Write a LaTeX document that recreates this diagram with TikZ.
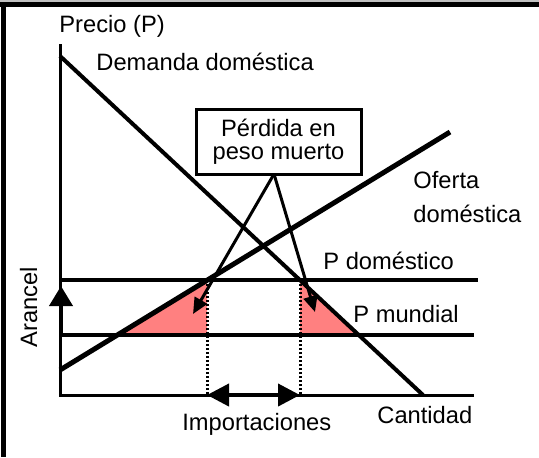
\documentclass[tikz,border=0pt]{standalone}
\usepackage{fontspec}
\setmainfont{Liberation Sans}
\usetikzlibrary{arrows.meta}
\definecolor{dwpink}{HTML}{FF8080}
\definecolor{framegray}{HTML}{C0C0C0}

\begin{document}
\begin{tikzpicture}[x=0.5pt,y=-0.5pt,
    lbl/.style={font=\fontsize{11.85}{11.5}\selectfont, inner sep=0pt, anchor=base west},
    axis/.style={line width=1.5pt},
    price/.style={line width=2.2pt},
    curve/.style={line width=2pt},
    guide/.style={line width=1.5pt, dash pattern=on 1pt off 1pt},
    pointer/.style={line width=1.5pt, -{Triangle[length=8pt,width=7pt]}},
    bigarrow/.style={line width=2pt},
    dwl/.style={fill=dwpink}]
\useasboundingbox (0,0) rectangle (539,457);
% frame
\fill [framegray] (0,0) rectangle (539,2);
\fill (0,2) rectangle (539,7);
\fill (1,2) rectangle (6,457);
% points
\coordinate (o) at (60,395);
\coordinate (ytop) at (60,44);
\coordinate (xend) at (474,395);
\coordinate (d1) at (60,56);
\coordinate (d2) at (423,395);
\coordinate (s1) at (60,370);
\coordinate (s2) at (450,132);
\coordinate (sw) at (117,335);
\coordinate (sd) at (207,280);
\coordinate (sm) at (207,335);
\coordinate (dd) at (300,280);
\coordinate (dm) at (300,335);
\coordinate (dw2) at (357,335);
\coordinate (qs) at (207,395);
\coordinate (qd) at (300,395);
% deadweight loss
\fill [dwl] (sw) -- (sd) -- (sm) -- cycle;
\fill [dwl] (dd) -- (dm) -- (dw2) -- cycle;
\draw [guide] (sd) -- (qs);
\draw [guide] (dd) -- (qd);
% axes
\draw [axis] (ytop) -- (o) -- (xend);
\draw [price] (60,280) -- (478,280);
\draw [price] (60,335) -- (474,335);
\draw [curve] (d1) -- (d2);
\draw [curve, line width=2.5pt] (s1) -- (s2);
% arrows
\draw [bigarrow, -{Triangle[length=10pt,width=11.5pt]}] (61,334) -- (61,286);
\draw [bigarrow, {Triangle[length=11pt,width=11pt]}-{Triangle[length=11pt,width=11pt]}] (qs) -- (qd);
% box
\node (dw) [draw, line width=1.5pt, align=center, minimum width=82.5pt, minimum height=32.5pt,
  inner sep=0pt, font=\fontsize{11.85}{11.5}\selectfont] at (278.5,141.5) {Pérdida en\\peso muerto};
\coordinate (dwfoot) at (274,174);
\coordinate (tipl) at (193,314);
\coordinate (tipr) at (315,312);
\draw [pointer] (dwfoot) -- (tipl);
\draw [pointer] (dwfoot) -- (tipr);
% labels
\node (precio) [lbl] at (59,32) {Precio (P)};
\node (dem) [lbl] at (96,70) {Demanda doméstica};
\node (of1) [lbl] at (413,188) {Oferta};
\node (of2) [lbl] at (413,222) {doméstica};
\node (pdom) [lbl] at (323,269) {P doméstico};
\node (pmun) [lbl] at (353,322) {P mundial};
\node (cant) [lbl] at (377,423) {Cantidad};
\node (imp) [lbl] at (182,430) {Importaciones};
\node (aran) [lbl, anchor=base, rotate=90] at (37,307) {Arancel};
\end{tikzpicture}
\end{document}
